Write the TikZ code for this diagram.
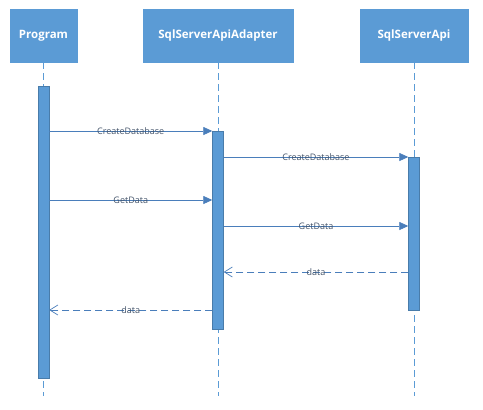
\documentclass[tikz,border=0pt]{standalone}
\usepackage{fontspec}
\setmainfont{Open Sans}
\usetikzlibrary{arrows.meta, positioning}
\definecolor{headblue}{HTML}{5B9BD5}
\definecolor{lineblue}{HTML}{4A7EBB}
\definecolor{labelgray}{HTML}{44546A}

\begin{document}
\begin{tikzpicture}[x=1pt, y=-1pt,
        head/.style={draw=headblue, fill=headblue, minimum height=53pt, text=white, font=\bfseries\fontsize{11.5}{14}\selectfont},
        bar/.style={draw=headblue!80!black, fill=headblue, minimum width=11pt, inner sep=0pt},
        lifeline/.style={draw=headblue, line width=0.6pt, dash pattern=on 7pt off 4pt},
        msg/.style={draw=lineblue, line width=0.7pt, -{Triangle[length=9pt, width=8pt]}},
        reply/.style={draw=lineblue, line width=0.7pt, dash pattern=on 7pt off 4pt, -{Straight Barb[length=8pt, width=10pt]}},
        lbl/.style={text=labelgray, font=\fontsize{9}{11}\selectfont, inner sep=1pt}
    ]
        \useasboundingbox (0,0) rectangle (483,410);
        % participants
        \node[head, minimum width=67pt] (prog) at (43.5,35.5) {Program};
        \node[head, minimum width=150pt] (adapter) at (218,35.5) {SqlServerApiAdapter};
        \node[head, minimum width=108pt] (api) at (414,35.5) {SqlServerApi};

        % lifelines
        \coordinate (progend) at (43.5,396);
        \coordinate (adapterend) at (218,396);
        \coordinate (apiend) at (414,396);
        \draw[lifeline] (prog.south) -- (progend);
        \draw[lifeline] (adapter.south) -- (adapterend);
        \draw[lifeline] (api.south) -- (apiend);

        % activations
        \node[bar, minimum height=292pt] (progact) at (43.5,232) {};
        \node[bar, minimum height=198pt] (adapteract) at (218,230) {};
        \node[bar, minimum height=153pt] (apiact) at (414,233.5) {};

        % messages
        \draw[msg] (progact.east |- 0,131) -- (adapteract.west |- 0,131) node[lbl, midway] {CreateDatabase};
        \draw[msg] (adapteract.east |- 0,157) -- (apiact.west |- 0,157) node[lbl, midway] {CreateDatabase};
        \draw[msg] (progact.east |- 0,200) -- (adapteract.west |- 0,200) node[lbl, midway] {GetData};
        \draw[msg] (adapteract.east |- 0,226) -- (apiact.west |- 0,226) node[lbl, midway] {GetData};
        \draw[reply] (apiact.west |- 0,272) -- (adapteract.east |- 0,272) node[lbl, midway] {data};
        \draw[reply] (adapteract.west |- 0,310) -- (progact.east |- 0,310) node[lbl, midway] {data};
    \end{tikzpicture}
\end{document}
